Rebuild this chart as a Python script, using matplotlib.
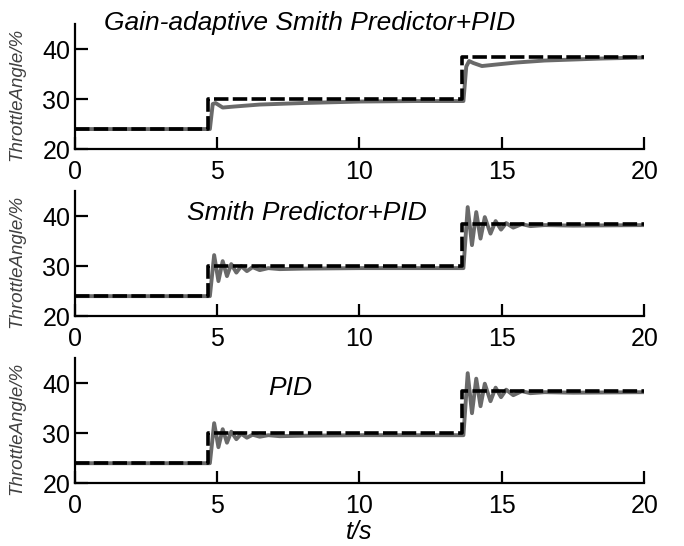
import matplotlib.pyplot as plt

# reference (set point) step
ref_t = [0, 4.7, 4.7, 13.6, 13.6, 20]
ref_y = [24, 24, 30, 30, 38.5, 38.5]

# gain-adaptive smith predictor + PID
ga_t = [0, 4.75, 4.85, 4.95, 5.2, 5.6, 6.5, 8, 10, 12, 13.65, 13.75, 13.85, 14.0, 14.3, 14.8, 15.5, 16.5, 17.5, 18.5, 20]
ga_y = [24, 24, 29.0, 29.2, 28.3, 28.5, 28.9, 29.2, 29.5, 29.6, 29.6, 36.5, 37.6, 37.2, 36.6, 36.9, 37.3, 37.7, 37.9, 38.1, 38.3]

# smith predictor + PID
sp_t = [0, 4.75, 4.9, 5.05, 5.2, 5.35, 5.5, 5.68, 5.85, 6.05, 6.25, 6.5, 6.8, 7.2, 8, 10, 13.65,
        13.8, 13.95, 14.1, 14.25, 14.4, 14.6, 14.78, 14.97, 15.15, 15.4, 15.7, 16.0, 16.5, 17.5, 20]
sp_y = [24, 24, 32.2, 27.0, 31.0, 28.0, 30.4, 28.7, 30.0, 29.0, 29.8, 29.2, 29.6, 29.4, 29.5, 29.6, 29.6,
        41.8, 34.2, 40.8, 35.5, 39.8, 36.5, 39.0, 37.3, 38.6, 37.7, 38.4, 38.0, 38.2, 38.1, 38.2]

# PID
pid_t = [0, 4.75, 4.9, 5.05, 5.2, 5.35, 5.5, 5.68, 5.85, 6.05, 6.25, 6.5, 6.8, 7.2, 8, 10, 13.65,
         13.8, 13.95, 14.1, 14.25, 14.4, 14.6, 14.78, 14.97, 15.15, 15.4, 15.7, 16.0, 16.5, 17.5, 20]
pid_y = [24, 24, 32.0, 27.2, 30.8, 28.1, 30.3, 28.8, 29.9, 29.1, 29.7, 29.3, 29.6, 29.4, 29.5, 29.6, 29.6,
         42.0, 34.0, 40.9, 35.4, 39.9, 36.4, 39.1, 37.2, 38.7, 37.6, 38.4, 38.0, 38.2, 38.1, 38.2]

titles = ["Gain-adaptive Smith Predictor+PID", "Smith Predictor+PID", "PID"]
title_pos = [(8.26, 43.8), (8.14, 39.2), (7.56, 37.6)]
series = [(ga_t, ga_y), (sp_t, sp_y), (pid_t, pid_y)]

plt.rcParams['font.family'] = ['Liberation Sans', 'DejaVu Sans']

fig = plt.figure(figsize=(6.84, 5.46), dpi=100)
bottoms = [0.727, 0.421, 0.115]
h = 0.229

for i in range(3):
    ax = fig.add_axes([0.109, bottoms[i], 0.833, h])
    t, y = series[i]
    ax.plot(t, y, color='#6a6a6a', lw=2.8, zorder=2)
    ax.plot(ref_t, ref_y, color='black', lw=2.6, ls=(0, (4, 1.2)), zorder=3)
    ax.set_xlim(0, 20)
    ax.set_ylim(20, 45)
    ax.set_xticks([0, 5, 10, 15, 20])
    ax.set_yticks([20, 30, 40])
    ax.spines['top'].set_visible(False)
    ax.spines['right'].set_visible(False)
    ax.spines['left'].set_linewidth(1.6)
    ax.spines['bottom'].set_linewidth(1.6)
    ax.tick_params(direction='in', length=9, width=1.6, labelsize=18)
    ax.tick_params(axis='x', pad=8)
    ax.tick_params(axis='y', pad=3)
    ax.set_ylabel("ThrottleAngle/%", fontsize=13.5, style='italic', color='#404040')
    ax.yaxis.set_label_coords(-0.087, 0.44)
    ax.text(title_pos[i][0], title_pos[i][1], titles[i], fontsize=19, style='italic',
            ha='center', va='baseline', clip_on=False)
    if i == 2:
        ax.set_xlabel("t/s", fontsize=18, style='italic', labelpad=1)

fig.savefig("out.png", dpi=100)
